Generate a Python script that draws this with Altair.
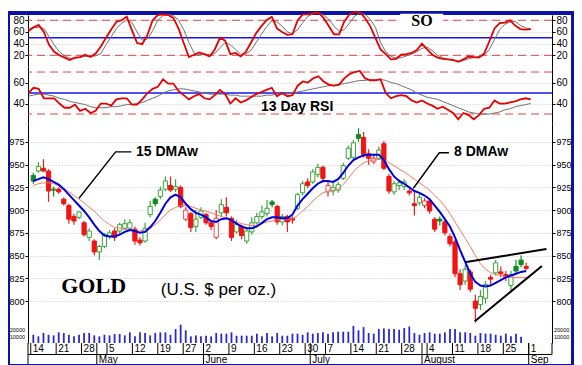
import altair as alt
import pandas as pd

# ---------------- data: trading days Apr 14 .. Aug 29 ----------------
day = list(range(98))
kind = list("gGRRgRRRRG" "RGRGGGRGGG" "RRGGgGGRGR" "rRGGRRrGRR" "GRGGGGGgRG"
            "RRGGRGGRrG" "GGGGgRRrGR" "RGGGRRGrRR" "gRRRRGRRGG" "RGRRGggR")
open_ = [938, 943, 946, 943, 923, 923, 912, 905, 893, 892,
         886, 870, 866, 854, 860, 871, 877, 877, 880, 880,
         879, 867, 866, 895, 912, 915, 923, 927, 923, 925,
         890, 896, 882, 892, 895, 886, 870, 897, 903, 891,
         876, 882, 866, 876, 886, 893, 896, 909, 904, 887,
         893, 891, 902, 919, 931, 931, 939, 947, 920, 921,
         922, 935, 957, 958, 983, 980, 962, 953, 957, 973,
         937, 920, 927, 926, 921, 907, 908, 905, 910, 890,
         890, 887, 871, 865, 830, 822, 832, 800, 796, 803,
         826, 831, 832, 829, 817, 838, 845, 838]
high = [941, 953, 956, 945, 926, 925, 914, 907, 896, 899,
        888, 880, 868, 862, 875, 878, 880, 886, 890, 890,
        882, 870, 886, 910, 914, 926, 937, 937, 934, 927,
        903, 898, 900, 903, 897, 888, 900, 912, 914, 893,
        889, 884, 880, 892, 897, 905, 911, 911, 906, 896,
        895, 893, 919, 932, 935, 945, 951, 949, 931, 930,
        931, 952, 971, 977, 990, 986, 967, 962, 970, 976,
        940, 932, 934, 934, 923, 922, 918, 913, 912, 892,
        893, 889, 874, 867, 835, 840, 835, 807, 812, 822,
        829, 845, 838, 833, 833, 845, 850, 842]
low = [929, 941, 942, 909, 915, 918, 905, 885, 884, 890,
       871, 866, 850, 845, 858, 868, 866, 874, 878, 877,
       862, 861, 864, 892, 904, 912, 921, 920, 920, 902,
       888, 876, 876, 890, 884, 878, 868, 893, 893, 866,
       874, 868, 863, 873, 884, 890, 893, 903, 884, 883,
       876, 885, 900, 916, 924, 929, 936, 930, 915, 916,
       919, 933, 955, 955, 975, 958, 950, 951, 955, 944,
       918, 917, 922, 922, 916, 894, 905, 902, 896, 876,
       883, 872, 860, 826, 812, 818, 810, 776, 790, 797,
       818, 828, 826, 822, 812, 830, 837, 834]
close = [932, 948, 943, 921, 922, 920, 907, 890, 888, 898,
         873, 877, 854, 860, 873, 875, 870, 884, 885, 886,
         866, 864, 880, 904, 907, 922, 932, 922, 926, 904,
         900, 881, 890, 899, 886, 882, 891, 906, 897, 870,
         884, 872, 877, 886, 893, 898, 902, 906, 887, 893,
         887, 889, 917, 929, 927, 942, 947, 935, 927, 925,
         928, 949, 968, 974, 979, 961, 957, 957, 966, 946,
         921, 929, 930, 931, 919, 905, 914, 910, 899, 879,
         888, 875, 863, 830, 818, 835, 813, 792, 805, 818,
         824, 842, 830, 826, 829, 833, 840, 836]
dmaw8 = [932, 934, 936, 934, 931, 928, 923, 917, 911, 905,
         899, 892, 884, 877, 872, 871, 871, 873, 876, 878,
         877, 875, 876, 881, 888, 897, 907, 914, 917, 914,
         907, 901, 897, 895, 892, 888, 887, 890, 891, 889,
         885, 882, 880, 880, 882, 886, 890, 892, 892, 891,
         891, 895, 905, 912, 918, 924, 929, 932, 932, 931,
         934, 941, 949, 955, 958, 960, 961, 961, 961, 955,
         945, 937, 932, 929, 925, 921, 919, 916, 912, 905,
         898, 890, 882, 870, 856, 843, 830, 821, 817, 816,
         817, 820, 823, 826, 828, 830, 832, 833]
dmaw15 = [927, 929, 930, 930, 929, 927, 924, 920, 916, 912,
          908, 903, 899, 893, 888, 884, 881, 880, 879, 878,
          877, 877, 878, 880, 884, 889, 895, 900, 903, 905,
          905, 904, 902, 900, 899, 897, 895, 893, 891, 889,
          887, 885, 884, 883, 883, 885, 887, 888, 889, 890,
          890, 890, 894, 899, 904, 910, 915, 919, 921, 922,
          923, 928, 935, 942, 948, 952, 954, 955, 956, 955,
          952, 949, 945, 942, 938, 934, 930, 926, 922, 916,
          911, 904, 896, 887, 878, 869, 860, 850, 841, 835,
          831, 829, 828, 827, 826, 826, 826, 826]
so_fast = [61, 68, 72, 60, 38, 26, 20, 16, 12, 16,
           17, 21, 17, 23, 35, 50, 64, 77, 80, 86,
           63, 41, 39, 55, 80, 89, 90, 89, 84, 66,
           41, 17, 21, 25, 22, 18, 30, 50, 45, 22,
           24, 18, 26, 42, 58, 70, 80, 86, 66, 60,
           55, 56, 80, 90, 90, 92, 93, 84, 70, 56,
           56, 78, 90, 94, 94, 84, 70, 50, 30, 22,
           13, 14, 21, 22, 24, 29, 40, 30, 21, 16,
           14, 13, 12, 9, 13, 18, 17, 16, 23, 44,
           66, 75, 76, 80, 71, 65, 64, 65]
so_slow = [66, 67, 68, 66, 52, 38, 26, 19, 15, 15,
           17, 18, 18, 19, 23, 38, 52, 66, 75, 80,
           76, 60, 46, 48, 62, 80, 88, 90, 88, 80,
           64, 42, 24, 21, 22, 21, 23, 33, 42, 38,
           30, 22, 22, 29, 42, 56, 69, 79, 77, 70,
           60, 57, 64, 76, 87, 91, 92, 89, 82, 70,
           61, 64, 75, 87, 92, 90, 82, 68, 42, 26,
           18, 15, 16, 19, 22, 26, 32, 34, 28, 20,
           16, 13, 12, 10, 11, 14, 16, 18, 20, 30,
           47, 64, 73, 77, 78, 71, 67, 65]
rsi13 = [50, 55, 54, 45, 45, 45, 40, 36, 36, 39,
         33, 35, 31, 33, 40, 40, 38, 44, 45, 45,
         39, 39, 44, 50, 54, 56, 63, 59, 59, 52,
         48, 44, 47, 49, 45, 44, 48, 53, 49, 40,
         45, 41, 43, 46, 49, 51, 53, 55, 47, 50,
         47, 48, 57, 61, 60, 64, 66, 61, 58, 57,
         58, 64, 68, 70, 71, 64, 62, 62, 63, 50,
         45, 47, 48, 47, 43, 41, 43, 40, 38, 35,
         37, 34, 31, 25, 31, 29, 25, 29, 35, 36,
         43, 40, 40, 41, 42, 44, 45, 44]
rsi_avg = [47, 48, 49, 49, 48, 47, 45, 44, 42, 41,
           40, 39, 37, 36, 36, 36, 37, 37, 38, 39,
           39, 40, 41, 43, 45, 47, 50, 52, 53, 54,
           54, 53, 52, 51, 50, 49, 49, 49, 49, 48,
           48, 47, 47, 47, 47, 47, 48, 48, 49, 49,
           49, 50, 51, 52, 53, 54, 55, 56, 57, 57,
           58, 59, 60, 61, 62, 62, 63, 63, 63, 62,
           60, 59, 57, 55, 53, 50, 48, 46, 45, 44,
           42, 40, 38, 36, 34, 32, 31, 30, 30, 30,
           31, 32, 34, 35, 37, 38, 39, 40]
vol = [13000, 10500, 15700, 13000, 12000, 16800, 15700, 13000, 10500, 13000,
       15700, 15700, 12000, 10500, 13000, 12000, 14200, 14200, 12000, 16800,
       10500, 16800, 15700, 12000, 15700, 16800, 16800, 13000, 22000, 28900,
       20000, 10500, 12000, 10500, 11500, 10500, 15700, 14700, 14700, 16800,
       11500, 11500, 11500, 11500, 14700, 10500, 15700, 10500, 15700, 11500,
       11500, 14700, 14700, 13000, 16800, 14700, 15700, 16800, 14700, 16800,
       17800, 17800, 17800, 27000, 20000, 25000, 15700, 14700, 22000, 23000,
       22000, 22000, 21000, 23600, 26000, 15700, 13000, 15700, 16800, 14700,
       14700, 16800, 22000, 22000, 16800, 16800, 15700, 11500, 15700, 14700,
       14700, 13000, 11500, 14700, 10500, 14700, 9800, None]

week_day = [0, 5, 10, 15, 20, 25, 30, 34, 39, 44, 49, 54, 58, 63, 68, 73, 78, 83, 88, 93, 98]
week_lab = ["14", "21", "28", "5", "12", "19", "27", "2", "9", "16", "23", "30",
            "7", "14", "21", "28", "4", "11", "18", "25", "1"]
month_day = [13, 34, 55, 77, 98]
month_lab = ["May", "June", "July", "August", "Sep"]

so_levels = [20, 80]
rsi_levels = [30, 70]
mid_level = [50]
vol_labels = [10000, 20000]
vol_text = ["10000", "20000"]

# ---------------- annotation positions ----------------
ptr = pd.DataFrame({"g": ["a", "a", "a", "b", "b", "b"], "o": [0, 1, 2, 0, 1, 2],
                    "x": [19.3, 16.2, 9.0, 81.8, 79.9, 74.8],
                    "y": [964, 964, 913, 963, 963, 924]})
tri = pd.DataFrame({"g": ["u", "u", "l", "l"],
                    "x": [85.2, 101.0, 86.9, 100.1],
                    "y": [842.9, 857.2, 777.8, 838.5]})

# ---------------- layout ----------------
W = 524
H_SO, H_RSI, H_PR = 52, 57, 219
FONT = "Liberation Sans"

df = pd.DataFrame({"i": day, "k": kind, "o": open_, "h": high, "l": low, "c": close,
                   "m8": dmaw8, "m15": dmaw15, "sf": so_fast, "ss": so_slow,
                   "r": rsi13, "ra": rsi_avg, "v": vol})

xs = alt.Scale(domain=[-0.06, 101.1], nice=False, zero=False)
grid_x = [d - 0.5 for d in week_day]


def xgrid(domain=False):
    return alt.X("i:Q", scale=xs, axis=alt.Axis(values=grid_x, grid=True, gridColor="#bdbdbd",
                                                gridDash=[1, 2], labels=False, ticks=False,
                                                domain=domain, domainColor="black", title=None))


XN = alt.X("i:Q", scale=xs, axis=None)


def yax(vals, orient, grid=False, size=10):
    return alt.Axis(values=vals, orient=orient, grid=grid, gridColor="#c4c4c4", gridDash=[1, 2],
                    domainColor="black", tickColor="black", tickSize=3, labelFontSize=size,
                    labelColor="black", labelFont=FONT, labelPadding=1, title=None)


base = alt.Chart(df)
one = pd.DataFrame({"z": [0]})


def frame(x1, x2, y1, y2):
    return alt.Chart(one).mark_rect(color="#0a12a8").encode(
        x=alt.value(x1), x2=alt.value(x2), y=alt.value(y1), y2=alt.value(y2))


# ---------- SO panel (also carries the outer frame) ----------
so_sc = alt.Scale(domain=[0, 89], nice=False, zero=False)
so = alt.layer(
    frame(-20, 546, -4, 0),
    frame(-20, 546, 349, 353),
    frame(-20, -18, -4, 353),
    frame(543, 546, -4, 353),
    alt.Chart(pd.DataFrame({"lv": so_levels})).mark_rule(color="#e04444", strokeDash=[8, 5], strokeWidth=1)
    .encode(y=alt.Y("lv:Q", scale=so_sc, axis=None)),
    alt.Chart(pd.DataFrame({"lv": mid_level})).mark_rule(color="#1414f0", strokeWidth=1.6)
    .encode(y=alt.Y("lv:Q", scale=so_sc, axis=None)),
    alt.Chart(pd.DataFrame({"a": [71.8], "b": [80.1], "p": [68], "q": [91]})).mark_rect(color="white")
    .encode(x=alt.X("a:Q", scale=xs, axis=None), x2="b:Q", y=alt.Y("p:Q", scale=so_sc, axis=None), y2="q:Q"),
    base.mark_line(color="#707070", strokeWidth=1).encode(
        x=xgrid(), y=alt.Y("ss:Q", scale=so_sc, axis=yax([20, 40, 60, 80], "left", True))),
    base.mark_line(color="#e80000", strokeWidth=1.8).encode(
        x=XN, y=alt.Y("sf:Q", scale=so_sc, axis=yax([20, 40, 60, 80], "right"))),
    alt.Chart(pd.DataFrame({"x": [76.0], "y": [70.3], "t": ["SO"]})).mark_text(
        font="Liberation Serif", fontWeight="bold", fontSize=16, baseline="alphabetic", color="black")
    .encode(x=alt.X("x:Q", scale=xs, axis=None), y=alt.Y("y:Q", scale=so_sc, axis=None), text="t:N"),
).resolve_axis(y="independent").properties(width=W, height=H_SO)

# ---------- RSI panel ----------
rsi_sc = alt.Scale(domain=[20.5, 74.8], nice=False, zero=False)
rsi = alt.layer(
    alt.Chart(pd.DataFrame({"lv": rsi_levels})).mark_rule(color="#e04444", strokeDash=[8, 5], strokeWidth=1)
    .encode(y=alt.Y("lv:Q", scale=rsi_sc, axis=None)),
    alt.Chart(pd.DataFrame({"lv": mid_level})).mark_rule(color="#1414f0", strokeWidth=1.6)
    .encode(y=alt.Y("lv:Q", scale=rsi_sc, axis=None)),
    base.mark_line(color="#707070", strokeWidth=1).encode(
        x=xgrid(), y=alt.Y("ra:Q", scale=rsi_sc, axis=yax([40, 60], "left", True))),
    base.mark_line(color="#e80000", strokeWidth=1.8).encode(
        x=XN, y=alt.Y("r:Q", scale=rsi_sc, axis=yax([40, 60], "right"))),
    alt.Chart(pd.DataFrame({"x": [51.9], "y": [32.9], "t": ["13 Day RSI"]})).mark_text(
        font=FONT, fontWeight="bold", fontSize=14, baseline="alphabetic", color="black")
    .encode(x=alt.X("x:Q", scale=xs, axis=None), y=alt.Y("y:Q", scale=rsi_sc, axis=None), text="t:N"),
).resolve_axis(y="independent").properties(width=W, height=H_RSI)

# ---------- price panel ----------
ps = alt.Scale(domain=[753.8, 994.7], nice=False, zero=False)
vs = alt.Scale(domain=[0, 344900], nice=False, zero=True)
price_vals = [800, 825, 850, 875, 900, 925, 950, 975]
kinds = ["G", "g", "R", "r"]
fill_sc = alt.Scale(domain=kinds, range=["white", "#108a20", "#f01414", "white"])
stroke_sc = alt.Scale(domain=kinds, range=["#3aa53a", "#108a20", "#f01414", "#f04848"])
wick_sc = alt.Scale(domain=kinds, range=["#3aa53a", "#108a20", "#e82020", "#e82020"])


def PY(field, axis=None):
    return alt.Y(field + ":Q", scale=ps, axis=axis)


ticks_df = pd.DataFrame({"t": grid_x, "lab": week_lab})
months_df = pd.DataFrame({"t": [d - 0.5 for d in month_day], "lab": month_lab})

price = alt.layer(
    base.mark_bar(color="#2a2acc", size=1.8).encode(x=xgrid(True), y=alt.Y("v:Q", scale=vs, axis=None)),
    alt.Chart(pd.DataFrame({"v": vol_labels, "t": vol_text})).mark_text(
        font=FONT, fontSize=5.5, align="right", color="black")
    .encode(x=alt.value(-3), y=alt.Y("v:Q", scale=vs, axis=None), text="t:N"),
    alt.Chart(pd.DataFrame({"v": vol_labels, "t": vol_text})).mark_text(
        font=FONT, fontSize=5.5, align="left", color="black")
    .encode(x=alt.value(W + 2), y=alt.Y("v:Q", scale=vs, axis=None), text="t:N"),
    base.mark_rule(strokeWidth=1.2).encode(
        x=XN, y=PY("l", yax(price_vals, "left", True, 9)), y2="h:Q",
        color=alt.Color("k:N", scale=wick_sc, legend=None)),
    base.mark_bar(size=4.2, strokeWidth=1).encode(
        x=XN, y=PY("o", yax(price_vals, "right", False, 9)), y2="c:Q",
        fill=alt.Fill("k:N", scale=fill_sc, legend=None),
        stroke=alt.Stroke("k:N", scale=stroke_sc, legend=None)),
    base.mark_line(color="#f07a68", strokeWidth=1).encode(x=XN, y=PY("m15")),
    base.mark_line(color="#0000e0", strokeWidth=2).encode(x=XN, y=PY("m8")),
    alt.Chart(ptr).mark_line(color="black", strokeWidth=1.4).encode(
        x=alt.X("x:Q", scale=xs, axis=None), y=PY("y"), detail="g:N", order="o:Q"),
    alt.Chart(tri).mark_line(color="black", strokeWidth=2).encode(
        x=alt.X("x:Q", scale=xs, axis=None), y=PY("y"), detail="g:N"),
    alt.Chart(pd.DataFrame({"x": [20.2, 82.8], "y": [959, 959], "t": ["15 DMAw", "8 DMAw"]})).mark_text(
        font=FONT, fontWeight="bold", fontSize=14, align="left", baseline="alphabetic", color="black")
    .encode(x=alt.X("x:Q", scale=xs, axis=None), y=PY("y"), text="t:N"),
    alt.Chart(pd.DataFrame({"x": [5.5], "y": [808.8], "t": ["GOLD"]})).mark_text(
        font="Liberation Serif", fontWeight="bold", fontSize=22, align="left", baseline="alphabetic", color="black")
    .encode(x=alt.X("x:Q", scale=xs, axis=None), y=PY("y"), text="t:N"),
    alt.Chart(pd.DataFrame({"x": [25.1], "y": [806.6], "t": ["(U.S. $ per oz.)"]})).mark_text(
        font=FONT, fontSize=17, align="left", baseline="alphabetic", color="black")
    .encode(x=alt.X("x:Q", scale=xs, axis=None), y=PY("y"), text="t:N"),
    # date axis
    alt.Chart(ticks_df).mark_rule(color="black", strokeWidth=1).encode(
        x=alt.X("t:Q", scale=xs, axis=None), y=alt.value(H_PR), y2=alt.value(H_PR + 11.5)),
    alt.Chart(ticks_df).mark_text(font=FONT, fontSize=10, align="left", baseline="middle", dx=2, color="black")
    .encode(x=alt.X("t:Q", scale=xs, axis=None), y=alt.value(H_PR + 6), text="lab:N"),
    alt.Chart(months_df).mark_rule(color="black", strokeWidth=1).encode(
        x=alt.X("t:Q", scale=xs, axis=None), y=alt.value(H_PR), y2=alt.value(H_PR + 21)),
    alt.Chart(months_df).mark_text(font=FONT, fontSize=10, align="left", baseline="middle", dx=2, color="black")
    .encode(x=alt.X("t:Q", scale=xs, axis=None), y=alt.value(H_PR + 16.5), text="lab:N"),
    alt.Chart(one).mark_rule(color="black", strokeWidth=1).encode(
        x=alt.value(0), x2=alt.value(W), y=alt.value(H_PR + 11.5)),
    alt.Chart(one).mark_rule(color="black", strokeWidth=1).encode(
        x=alt.value(0), y=alt.value(H_PR), y2=alt.value(H_PR + 21)),
    alt.Chart(one).mark_rule(color="black", strokeWidth=1).encode(
        x=alt.value(W), y=alt.value(H_PR), y2=alt.value(H_PR + 11.5)),
).resolve_scale(y="independent").properties(width=W, height=H_PR)

chart = alt.vconcat(so, rsi, price, spacing=0, bounds="flush").properties(
    padding=0, background="white"
).configure_view(stroke=None)

chart.save("out.html", embed_options={"renderer": "svg", "actions": False})
